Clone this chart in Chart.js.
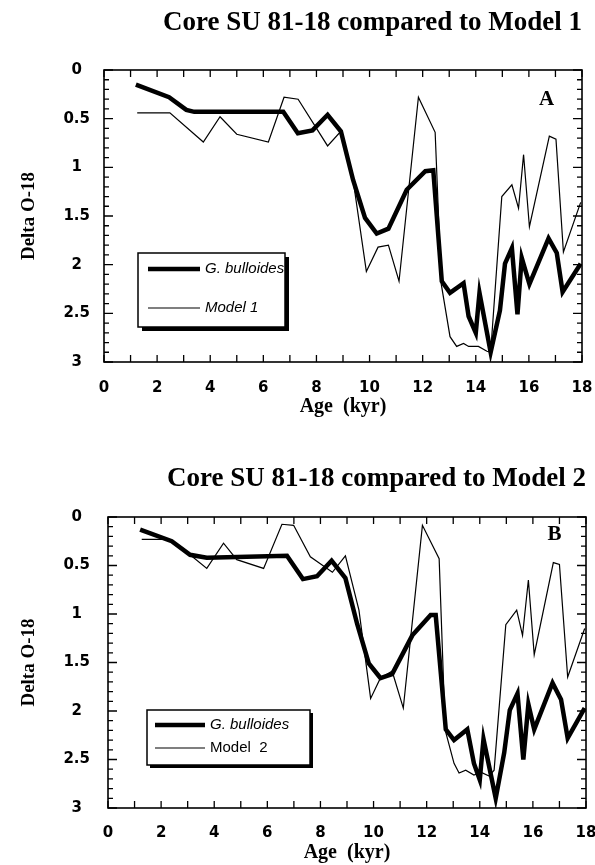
<!DOCTYPE html>
<html>
<head>
<meta charset="utf-8">
<script src="https://cdn.jsdelivr.net/npm/chart.js@4.4.0/dist/chart.umd.min.js"></script>
<style>
  html, body { margin: 0; padding: 0; background: #fff; }
  canvas { display: block; }
</style>
</head>
<body>
<canvas id="model1-chart" width="595" height="430"></canvas>
<canvas id="model2-chart" width="595" height="435"></canvas>
<script>
// axis tick labels
var ageTicks = [0, 2, 4, 6, 8, 10, 12, 14, 16, 18];
var deltaTicks = [0, 0.5, 1, 1.5, 2, 2.5, 3];

// panel A: core SU 81-18 (G. bulloides) vs Model 1
var ageBulloidesA = [1.2, 2.45, 3.1, 3.4, 6.75, 7.3, 7.85, 8.42, 8.92, 9.38, 9.83, 10.27, 10.71, 11.4, 12.1, 12.4,
                     12.72, 13.03, 13.54, 13.73, 14.0, 14.14, 14.56, 14.91, 15.1, 15.36, 15.57, 15.73, 16.02, 16.74, 17.05, 17.27, 17.95];
var deltaBulloidesA = [0.15, 0.28, 0.41, 0.43, 0.43, 0.65, 0.62, 0.46, 0.63, 1.13, 1.52, 1.68, 1.63, 1.23, 1.04, 1.03,
                       2.17, 2.29, 2.19, 2.53, 2.70, 2.29, 2.90, 2.47, 1.99, 1.83, 2.51, 1.93, 2.20, 1.73, 1.88, 2.28, 1.99];
var ageModel1 = [1.25, 2.48, 3.74, 4.37, 5.0, 6.19, 6.78, 7.31, 8.42, 8.92, 9.38, 9.88, 10.32, 10.71, 11.11, 11.84, 12.47,
                 12.7, 13.03, 13.28, 13.54, 13.73, 14.1, 14.42, 14.56, 14.98, 15.36, 15.61, 15.8, 16.02, 16.77, 17.02, 17.3, 17.95];
var deltaModel1 = [0.44, 0.44, 0.74, 0.48, 0.66, 0.74, 0.28, 0.30, 0.78, 0.63, 1.13, 2.07, 1.82, 1.80, 2.17, 0.28, 0.64,
                   2.2, 2.74, 2.84, 2.81, 2.84, 2.84, 2.89, 2.90, 1.30, 1.18, 1.42, 0.87, 1.61, 0.68, 0.71, 1.87, 1.36];

// panel B: core SU 81-18 (G. bulloides) vs Model 2
var ageBulloidesB = [1.21, 2.4, 3.09, 3.72, 6.74, 7.34, 7.87, 8.42, 8.94, 9.38, 9.82, 10.26, 10.7, 11.46, 12.15, 12.34,
                     12.72, 13.03, 13.53, 13.78, 14.0, 14.14, 14.6, 14.92, 15.13, 15.42, 15.64, 15.83, 16.05, 16.74, 17.06, 17.31, 17.95];
var deltaBulloidesB = [0.13, 0.25, 0.39, 0.42, 0.40, 0.64, 0.61, 0.45, 0.63, 1.10, 1.51, 1.66, 1.62, 1.22, 1.01, 1.01,
                       2.19, 2.30, 2.19, 2.54, 2.71, 2.29, 2.90, 2.43, 1.99, 1.82, 2.50, 1.93, 2.19, 1.71, 1.88, 2.28, 1.97];
var ageModel2 = [1.27, 2.21, 2.4, 3.09, 3.72, 4.35, 4.85, 5.86, 6.55, 6.99, 7.62, 8.45, 8.94, 9.45, 9.89, 10.26, 10.7,
                 11.12, 11.84, 12.47, 12.7, 13.03, 13.22, 13.47, 13.78, 14.04, 14.35, 14.54, 14.98, 15.39, 15.61, 15.83, 16.05,
                 16.77, 17.0, 17.31, 17.95];
var deltaModel2 = [0.23, 0.23, 0.25, 0.39, 0.53, 0.27, 0.44, 0.53, 0.075, 0.086, 0.41, 0.57, 0.40, 0.96, 1.87, 1.66, 1.59,
                   1.97, 0.086, 0.43, 2.2, 2.54, 2.64, 2.61, 2.66, 2.63, 2.67, 2.61, 1.11, 0.96, 1.22, 0.65, 1.42,
                   0.47, 0.49, 1.65, 1.15];

function toPoints(ages, values) {
    var pts = [];
    for (var i = 0; i < ages.length; i++) {
        pts.push({ x: ages[i], y: values[i] });
    }
    return pts;
}

// box around the plot with inward ticks on all four sides
var frameTicks = {
    id: 'frameTicks',
    afterDatasetsDraw: function(chart) {
        var ctx = chart.ctx, area = chart.chartArea;
        var xs = chart.scales.x, ys = chart.scales.y;
        ctx.save();
        ctx.strokeStyle = '#000';
        ctx.lineWidth = 1.6;
        ctx.strokeRect(area.left, area.top, area.right - area.left, area.bottom - area.top);
        ctx.lineWidth = 1.3;
        ctx.beginPath();
        for (var i = 0; i <= 18; i++) {
            var px = xs.getPixelForValue(i);
            ctx.moveTo(px, area.bottom); ctx.lineTo(px, area.bottom - 7);
            ctx.moveTo(px, area.top); ctx.lineTo(px, area.top + 7);
        }
        for (var j = 0; j <= 30; j++) {
            var py = ys.getPixelForValue(j / 10);
            var len = j % 5 === 0 ? 9 : 5;
            ctx.moveTo(area.left, py); ctx.lineTo(area.left + len, py);
            ctx.moveTo(area.right, py); ctx.lineTo(area.right - len, py);
        }
        ctx.stroke();
        ctx.restore();
    }
};

// framed legend with a drop shadow, inside the plot
var boxLegend = {
    id: 'boxLegend',
    afterDraw: function(chart, args, opts) {
        var ctx = chart.ctx, area = chart.chartArea;
        var left = area.left + opts.left, top = area.top + opts.top;
        ctx.save();
        ctx.fillStyle = '#000';
        ctx.fillRect(left + opts.shadow, top + opts.shadow, opts.width, opts.height);
        ctx.fillStyle = '#fff';
        ctx.fillRect(left, top, opts.width, opts.height);
        ctx.strokeStyle = '#000';
        ctx.lineWidth = 1.5;
        ctx.strokeRect(left, top, opts.width, opts.height);
        chart.data.datasets.forEach(function(ds, i) {
            var rowY = top + opts.rows[i];
            ctx.lineWidth = ds.borderWidth;
            ctx.beginPath();
            ctx.moveTo(left + opts.lineStart, rowY);
            ctx.lineTo(left + opts.lineEnd, rowY);
            ctx.stroke();
            ctx.fillStyle = '#000';
            ctx.font = opts.fonts[i];
            ctx.textBaseline = 'middle';
            ctx.textAlign = 'left';
            ctx.fillText(ds.label, left + opts.textX, rowY);
        });
        ctx.restore();
    }
};

// panel letter (A / B) in the upper right corner
var panelLetter = {
    id: 'panelLetter',
    afterDraw: function(chart, args, opts) {
        var ctx = chart.ctx, area = chart.chartArea;
        ctx.save();
        ctx.fillStyle = '#000';
        ctx.font = 'bold 21px "Liberation Serif"';
        ctx.textAlign = 'center';
        ctx.textBaseline = 'middle';
        ctx.fillText(opts.text, area.right - opts.dx, area.top + opts.dy);
        ctx.restore();
    }
};

function makeChart(id, datasets, opt) {
    var canvas = document.getElementById(id);
    return new Chart(canvas, {
        type: 'line',
        data: { datasets: datasets },
        options: {
            responsive: false,
            animation: false,
            layout: { padding: { left: 0, right: opt.padRight, top: 0, bottom: 0 } },
            plugins: {
                legend: { display: false },
                tooltip: { enabled: false },
                title: {
                    display: true,
                    text: opt.title,
                    align: 'end',
                    color: '#000',
                    font: { family: 'Liberation Serif', size: 27, weight: 'bold' },
                    padding: { top: opt.titleTop, bottom: opt.titleBottom }
                },
                boxLegend: opt.legend,
                panelLetter: opt.letter
            },
            scales: {
                x: {
                    type: 'linear',
                    min: 0,
                    max: 18,
                    afterBuildTicks: function(scale) {
                        scale.ticks = ageTicks.map(function(v) { return { value: v }; });
                    },
                    ticks: {
                        color: '#000',
                        padding: opt.xPad,
                        maxRotation: 0,
                        autoSkip: false,
                        font: { family: 'DejaVu Sans', size: 15, weight: 'bold' },
                        callback: function(v) { return String(v); }
                    },
                    grid: { display: false, drawTicks: false },
                    border: { display: false },
                    title: {
                        display: true,
                        text: 'Age  (kyr)',
                        color: '#000',
                        font: { family: 'Liberation Serif', size: 20, weight: 'bold' },
                        padding: { top: 0, bottom: opt.agePad }
                    },
                    afterFit: function(scale) {
                        scale.height = opt.xHeight;
                        scale.paddingLeft = 0;
                        scale.paddingRight = 0;
                    }
                },
                y: {
                    type: 'linear',
                    reverse: true,
                    min: 0,
                    max: 3,
                    afterBuildTicks: function(scale) {
                        scale.ticks = deltaTicks.map(function(v) { return { value: v }; });
                    },
                    ticks: {
                        color: '#000',
                        padding: opt.yPad,
                        crossAlign: 'center',
                        autoSkip: false,
                        font: { family: 'DejaVu Sans', size: 15, weight: 'bold' },
                        callback: function(v) { return String(v); }
                    },
                    grid: { display: false, drawTicks: false },
                    border: { display: false },
                    title: {
                        display: true,
                        text: 'Delta O-18',
                        color: '#000',
                        font: { family: 'Liberation Serif', size: 19, weight: 'bold' },
                        padding: { top: 18, bottom: 0 }
                    },
                    afterFit: function(scale) {
                        scale.width = opt.yWidth;
                        scale.paddingTop = 0;
                        scale.paddingBottom = 0;
                    }
                }
            }
        },
        plugins: [frameTicks, boxLegend, panelLetter]
    });
}

function seriesStyle(label, pts, width) {
    return {
        label: label,
        data: pts,
        borderColor: '#000',
        borderWidth: width,
        pointRadius: 0,
        tension: 0,
        fill: false,
        borderJoinStyle: 'miter'
    };
}

makeChart('model1-chart', [
    seriesStyle('G. bulloides', toPoints(ageBulloidesA, deltaBulloidesA), 4.5),
    seriesStyle('Model 1', toPoints(ageModel1, deltaModel1), 1.2)
], {
    title: 'Core SU 81-18 compared to Model 1',
    titleTop: 7, titleBottom: 30.6,
    padRight: 13, yWidth: 104, yPad: 14,
    xHeight: 68, xPad: 17, agePad: 11,
    legend: { left: 34, top: 183, width: 147, height: 74, shadow: 4, rows: [16, 55],
              lineStart: 10, lineEnd: 62, textX: 67,
              fonts: ['italic 15px "Liberation Sans"', 'italic 15px "Liberation Sans"'] },
    letter: { text: 'A', dx: 35.5, dy: 29.5 }
});

makeChart('model2-chart', [
    seriesStyle('G. bulloides', toPoints(ageBulloidesB, deltaBulloidesB), 4.5),
    seriesStyle('Model  2', toPoints(ageModel2, deltaModel2), 1.2)
], {
    title: 'Core SU 81-18 compared to Model 2',
    titleTop: 33, titleBottom: 21.6,
    padRight: 9, yWidth: 108, yPad: 18,
    xHeight: 57, xPad: 16, agePad: 0,
    legend: { left: 39, top: 193, width: 163, height: 55, shadow: 3, rows: [15, 38],
              lineStart: 8, lineEnd: 58, textX: 63,
              fonts: ['italic 15px "Liberation Sans"', '15px "Liberation Sans"'] },
    letter: { text: 'B', dx: 31.5, dy: 18 }
});
</script>
</body>
</html>
